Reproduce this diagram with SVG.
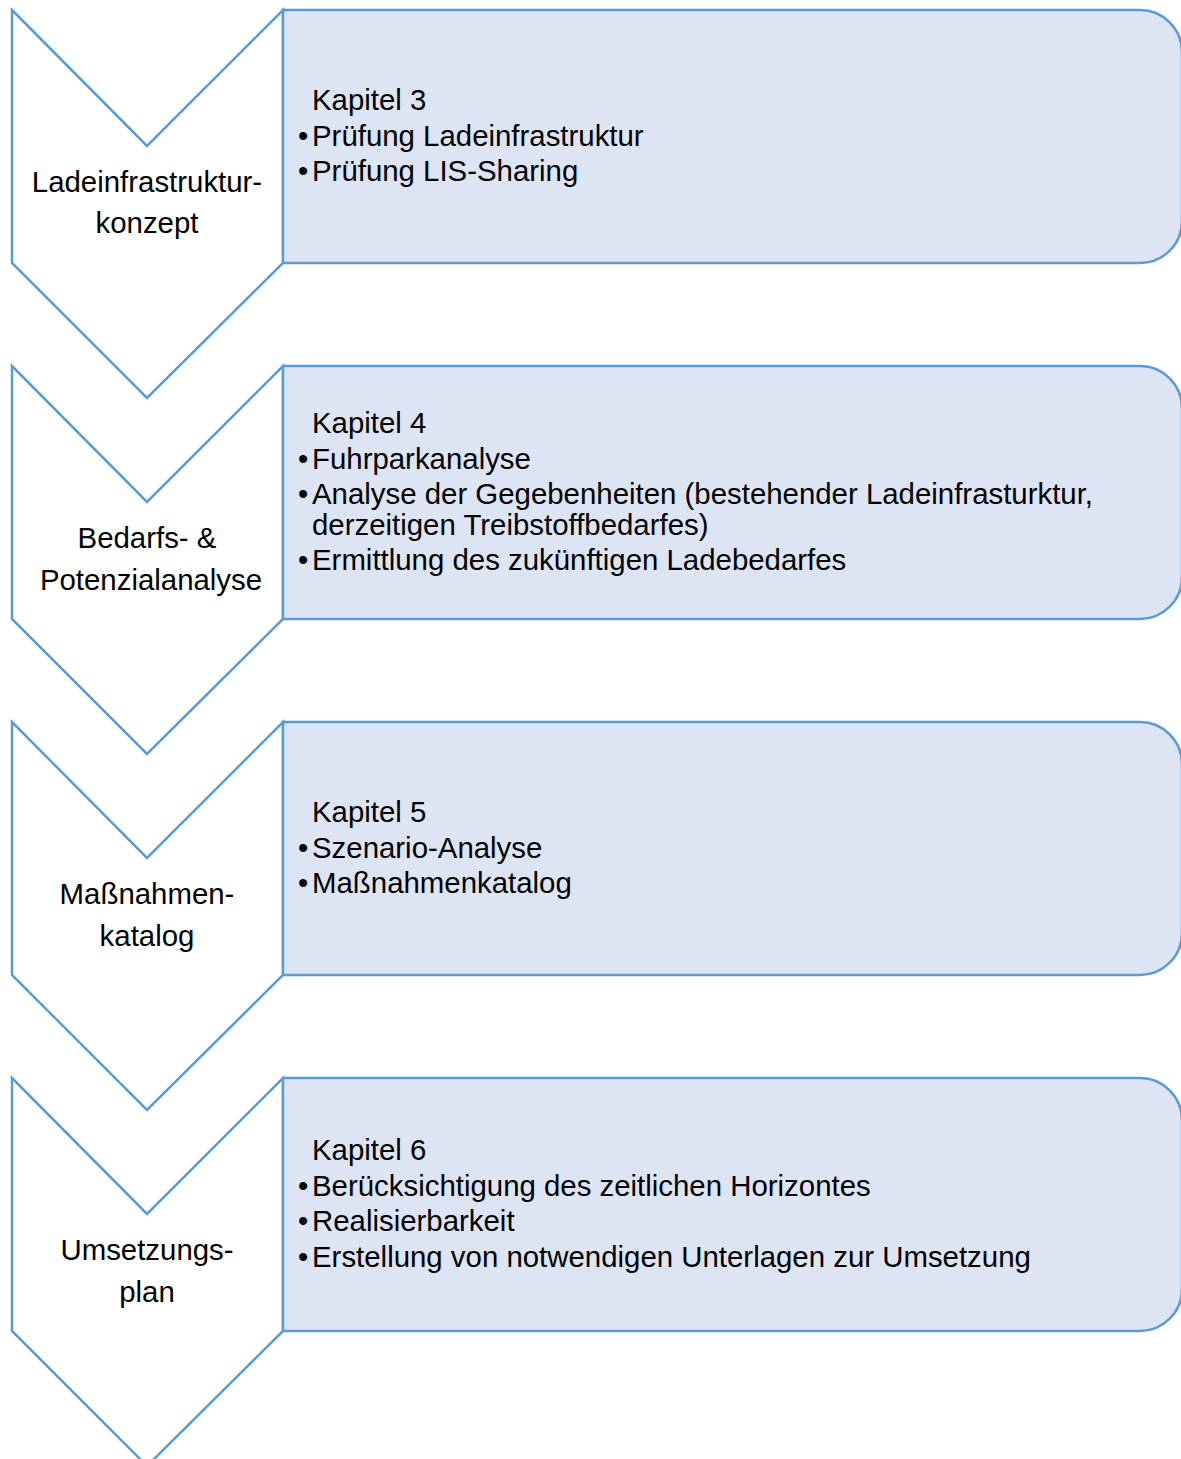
<svg xmlns="http://www.w3.org/2000/svg" width="1181" height="1459" viewBox="0 0 1181 1459">
<style>
.chev{fill:#ffffff;stroke:#5b9bd5;stroke-width:2.5;stroke-linejoin:miter}
.box{fill:#dde4f3;stroke:#5b9bd5;stroke-width:2.5}
text{font-family:"Liberation Sans",Arial,sans-serif;font-size:29.4px;fill:#000}
.c{text-anchor:middle}
</style>
<rect width="1181" height="1459" fill="#ffffff"/>
<g id="chevron1"><path class="chev" d="M12,10 L147,146 L283,10 L283,263 L147,398 L12,263 Z"/><text class="c" x="147" y="192">Ladeinfrastruktur-</text><text class="c" x="147" y="233">konzept</text></g>
<g id="box1"><path class="box" d="M283,10 H1140 A42,42 0 0 1 1182,52 V221 A42,42 0 0 1 1140,263 H283 Z"/><text x="312" y="110">Kapitel 3</text><text x="298" y="146">•</text><text x="312" y="146">Prüfung Ladeinfrastruktur</text><text x="298" y="181">•</text><text x="312" y="181">Prüfung LIS-Sharing</text></g>
<g id="chevron2"><path class="chev" d="M12,366 L147,502 L283,366 L283,619 L147,754 L12,619 Z"/><text class="c" x="147" y="548">Bedarfs- &amp;</text><text class="c" x="151" y="590">Potenzialanalyse</text></g>
<g id="box2"><path class="box" d="M283,366 H1140 A42,42 0 0 1 1182,408 V577 A42,42 0 0 1 1140,619 H283 Z"/><text x="312" y="433">Kapitel 4</text><text x="298" y="469">•</text><text x="312" y="469">Fuhrparkanalyse</text><text x="298" y="504">•</text><text x="312" y="504">Analyse der Gegebenheiten (bestehender Ladeinfrasturktur,</text><text x="312" y="535">derzeitigen Treibstoffbedarfes)</text><text x="298" y="570">•</text><text x="312" y="570">Ermittlung des zukünftigen Ladebedarfes</text></g>
<g id="chevron3"><path class="chev" d="M12,722 L147,858 L283,722 L283,975 L147,1110 L12,975 Z"/><text class="c" x="147" y="904">Maßnahmen-</text><text class="c" x="147" y="946">katalog</text></g>
<g id="box3"><path class="box" d="M283,722 H1140 A42,42 0 0 1 1182,764 V933 A42,42 0 0 1 1140,975 H283 Z"/><text x="312" y="822">Kapitel 5</text><text x="298" y="858">•</text><text x="312" y="858">Szenario-Analyse</text><text x="298" y="893">•</text><text x="312" y="893">Maßnahmenkatalog</text></g>
<g id="chevron4"><path class="chev" d="M12,1078 L147,1214 L283,1078 L283,1331 L147,1466 L12,1331 Z"/><text class="c" x="147" y="1260">Umsetzungs-</text><text class="c" x="147" y="1302">plan</text></g>
<g id="box4"><path class="box" d="M283,1078 H1140 A42,42 0 0 1 1182,1120 V1289 A42,42 0 0 1 1140,1331 H283 Z"/><text x="312" y="1160">Kapitel 6</text><text x="298" y="1196">•</text><text x="312" y="1196">Berücksichtigung des zeitlichen Horizontes</text><text x="298" y="1231">•</text><text x="312" y="1231">Realisierbarkeit</text><text x="298" y="1267">•</text><text x="312" y="1267">Erstellung von notwendigen Unterlagen zur Umsetzung</text></g>
<g id="connectors"></g>
</svg>
